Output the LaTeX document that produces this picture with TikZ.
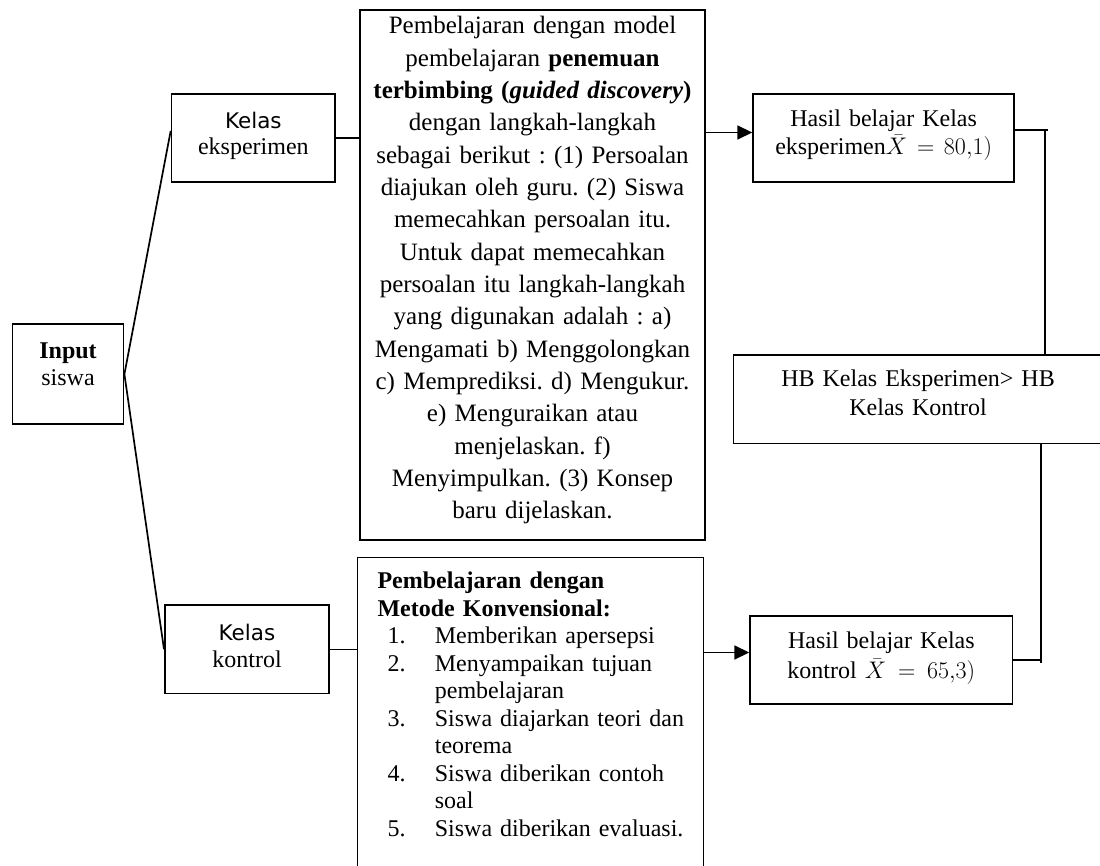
\documentclass[tikz,border=0pt]{standalone}
\usepackage{fix-cm}
\usepackage{fontspec}
\setmainfont{Liberation Serif}
\setsansfont{DejaVu Sans}
\usetikzlibrary{arrows.meta,calc}

\tikzset{
  kotak/.style={draw, line width=1.7pt, anchor=north west, inner sep=0pt, align=center},
  garis/.style={line width=1.7pt},
  panah/.style={garis, -{Triangle[length=15pt,width=14pt]}},
}
\newcommand{\kls}{{\sffamily\fontsize{21.5}{26.3}\selectfont Kelas}}
\newcommand{\judul}[1]{\hspace*{20pt}\textbf{#1}}
\newcommand{\butir}[2]{\hspace*{30pt}\makebox[47.3pt][l]{#1.}#2}
\newcommand{\lanjut}[1]{\hspace*{77.3pt}#1}
\frenchspacing

\begin{document}
\begin{tikzpicture}[x=1pt,y=-1pt]
  \useasboundingbox (0,0) rectangle (1100,866);
  % kotak kiri
  \node[kotak, text width=111pt, text height=34pt, text depth=66pt,
        font=\fontsize{24}{27}\selectfont] (input) at (11.7,323.3) {\textbf{Input}\\siswa};
  \node[kotak, text width=163.6pt, text height=34.4pt, text depth=53.3pt,
        font=\fontsize{24}{26.3}\selectfont] (eksp) at (170.7,93.3) {\kls\\eksperimen};
  \node[kotak, text width=164.3pt, text height=35pt, text depth=53.4pt,
        font=\fontsize{24}{27.4}\selectfont] (kontrol) at (164,604.3) {\kls\\kontrol};
  % kotak tengah
  \node[kotak, text width=345.3pt, text height=24pt, text depth=506pt,
        font=\fontsize{25}{32.33}\selectfont] (model) at (359,9) {Pembelajaran dengan model\\
    pembelajaran \textbf{penemuan}\\
    \textbf{terbimbing (\textit{guided discovery})}\\
    dengan langkah-langkah\\
    sebagai berikut : (1) Persoalan\\
    diajukan oleh guru. (2) Siswa\\
    memecahkan persoalan itu.\\
    Untuk dapat memecahkan\\
    persoalan itu langkah-langkah\\
    yang digunakan adalah : a)\\
    Mengamati b) Menggolongkan\\
    c) Memprediksi. d) Mengukur.\\
    e) Menguraikan atau\\
    menjelaskan. f)\\
    Menyimpulkan. (3) Konsep\\
    baru dijelaskan.};
  \node[kotak, align=left, text width=346pt, text height=31.3pt, text depth=330pt,
        font=\fontsize{24}{27.5}\selectfont] (konv) at (356.7,556.7) {\judul{Pembelajaran dengan}\\
    \judul{Metode Konvensional:}\\
    \butir{1}{Memberikan apersepsi}\\
    \butir{2}{Menyampaikan tujuan}\\
    \lanjut{pembelajaran}\\
    \butir{3}{Siswa diajarkan teori dan}\\
    \lanjut{teorema}\\
    \butir{4}{Siswa diberikan contoh}\\
    \lanjut{soal}\\
    \butir{5}{Siswa diberikan evaluasi.}};
  % kotak kanan
  \node[kotak, text width=261pt, text height=32.4pt, text depth=55.3pt,
        font=\fontsize{24}{28.4}\selectfont] (hasileksp) at (752.3,93.3) {Hasil belajar Kelas\\eksperimen$\bar{X}=80{,}1)$};
  \node[kotak, text width=262.4pt, text height=33pt, text depth=55.3pt,
        font=\fontsize{24}{29.4}\selectfont] (hasilkon) at (749.3,615) {Hasil belajar Kelas\\kontrol $\bar{X}=65{,}3)$};
  \node[kotak, text width=369pt, text height=32pt, text depth=56.7pt,
        font=\fontsize{24}{28.3}\selectfont] (hb) at (732.7,354) {HB Kelas Eksperimen> HB\\Kelas Kontrol};

  % garis penghubung
  \draw[garis] (input.east) -- ($(eksp.north west)!0.42!(eksp.south west)$);
  \draw[garis] (input.east) -- (kontrol.west);
  \draw[garis] (eksp.east) -- (eksp.east -| model.west);
  \draw[garis] (kontrol.east) -- (kontrol.east -| konv.west);
  \coordinate (pe) at ([yshift=5.5pt]hasileksp.west);
  \coordinate (pk) at ([yshift=7.5pt]hasilkon.west);
  \draw[panah] (pe -| model.east) -- (pe);
  \draw[panah] (pk -| konv.east) -- (pk);
  \coordinate (ka) at ([yshift=8pt]hasileksp.east);
  \coordinate (ja) at ([xshift=30pt]ka);
  \draw[garis] (ka) -- ([xshift=33pt]ka);
  \draw[garis] (ja) -- (ja |- hb.north);
  \coordinate (jb) at ([xshift=27.6pt]hasilkon.east);
  \draw[garis] (hasilkon.east) -- ([xshift=29pt]hasilkon.east);
  \draw[garis] ([yshift=-3pt]jb) -- (jb |- hb.south);
\end{tikzpicture}
\end{document}
